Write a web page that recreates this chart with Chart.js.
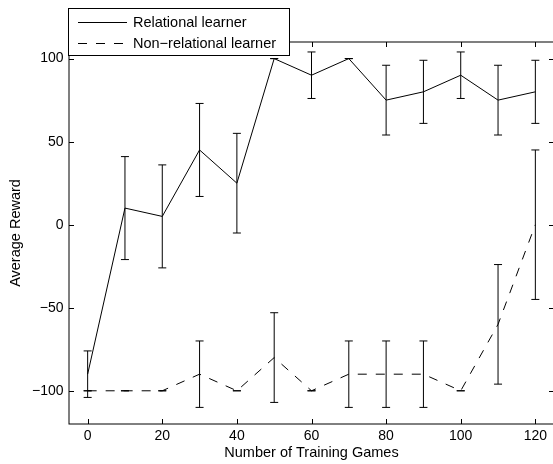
<!DOCTYPE html>
<html>
<head>
<meta charset="utf-8">
<script src="https://cdn.jsdelivr.net/npm/chart.js@4/dist/chart.umd.min.js"></script>
<style>
  html, body { margin: 0; padding: 0; background: #fff; overflow: hidden; }
  #wrap { width: 553px; height: 464px; overflow: hidden; }
</style>
</head>
<body>
<div id="wrap"><canvas id="c" width="556" height="464"></canvas></div>
<script>
const games = [0, 10, 20, 30, 40, 50, 60, 70, 80, 90, 100, 110, 120];
const relationalMean = [-90, 10, 5, 45, 25, 100, 90, 100, 75, 80, 90, 75, 80];
const relationalErr  = [14, 31, 31, 28, 30, 0, 14, 0, 21, 19, 14, 21, 19];
const nonRelationalMean = [-100, -100, -100, -90, -100, -80, -100, -90, -90, -90, -100, -60, 0];
const nonRelationalErr  = [0, 0, 0, 20, 0, 27, 0, 20, 20, 20, 0, 36, 45];
const xTickValues = [0, 20, 40, 60, 80, 100, 120];
const yTickValues = [-100, -50, 0, 50, 100];
const seriesLabels = ['Relational learner', 'Non\u2212relational learner'];

const FONT = '"Liberation Sans", Arial, Helvetica, sans-serif';
const errs = [relationalErr, nonRelationalErr];

// error bars drawn through the scales
const errorBars = {
  id: 'errorBars',
  afterDatasetsDraw(chart) {
    const { ctx, scales: { x, y } } = chart;
    ctx.save();
    ctx.strokeStyle = '#000';
    ctx.lineWidth = 1;
    ctx.setLineDash([]);
    chart.data.datasets.forEach((ds, i) => {
      ds.data.forEach((p, j) => {
        const px = x.getPixelForValue(p.x);
        const top = y.getPixelForValue(p.y + errs[i][j]);
        const bot = y.getPixelForValue(p.y - errs[i][j]);
        ctx.beginPath();
        ctx.moveTo(px, top); ctx.lineTo(px, bot);
        ctx.moveTo(px - 4, top); ctx.lineTo(px + 4, top);
        ctx.moveTo(px - 4, bot); ctx.lineTo(px + 4, bot);
        ctx.stroke();
      });
    });
    ctx.restore();
  },
};

// box frame with inward ticks, then the legend on top
const frame = {
  id: 'frame',
  afterDraw(chart) {
    const { ctx, chartArea: a, scales: { x, y } } = chart;
    ctx.save();
    ctx.strokeStyle = '#000';
    ctx.lineWidth = 1;
    ctx.setLineDash([]);
    ctx.strokeRect(a.left, a.top, a.right - a.left, a.bottom - a.top);
    ctx.beginPath();
    xTickValues.forEach((v) => {
      const px = Math.round(x.getPixelForValue(v)) + 0.5;
      ctx.moveTo(px, a.bottom); ctx.lineTo(px, a.bottom - 5);
      ctx.moveTo(px, a.top); ctx.lineTo(px, a.top + 5);
    });
    yTickValues.forEach((v) => {
      const py = Math.round(y.getPixelForValue(v)) + 0.5;
      ctx.moveTo(a.left, py); ctx.lineTo(a.left + 5, py);
      ctx.moveTo(a.right, py); ctx.lineTo(a.right - 5, py);
    });
    ctx.stroke();

    // legend
    ctx.fillStyle = '#fff';
    ctx.fillRect(68.5, 8.5, 221, 47);
    ctx.strokeRect(68.5, 8.5, 221, 47);
    ctx.fillStyle = '#000';
    ctx.font = '14.5px ' + FONT;
    ctx.textBaseline = 'middle';
    const rows = [22.5, 43.5];
    chart.data.datasets.forEach((ds, i) => {
      ctx.setLineDash(ds.borderDash || []);
      ctx.beginPath();
      ctx.moveTo(78, rows[i]); ctx.lineTo(127, rows[i]);
      ctx.stroke();
      ctx.fillText(ds.label, 133, rows[i]);
    });
    ctx.restore();
  },
};

new Chart(document.getElementById('c'), {
  type: 'line',
  data: {
    datasets: [
      {
        label: seriesLabels[0],
        data: games.map((g, i) => ({ x: g, y: relationalMean[i] })),
        borderColor: '#000', borderWidth: 1, pointRadius: 0, tension: 0,
      },
      {
        label: seriesLabels[1],
        data: games.map((g, i) => ({ x: g, y: nonRelationalMean[i] })),
        borderColor: '#000', borderWidth: 1, pointRadius: 0, tension: 0,
        borderDash: [9, 9],
      },
    ],
  },
  options: {
    responsive: false,
    animation: false,
    devicePixelRatio: 1,
    layout: { padding: { left: 0, top: 42, right: 2, bottom: 0 } },
    plugins: { legend: { display: false }, tooltip: { enabled: false } },
    scales: {
      x: {
        type: 'linear', min: -5, max: 125,
        afterBuildTicks: (s) => { s.ticks = xTickValues.map((v) => ({ value: v })); },
        afterFit: (s) => { s.height = 40; },
        grid: { display: false, drawTicks: false },
        border: { display: false },
        ticks: { color: '#000', font: { family: FONT, size: 14 }, padding: 4, maxRotation: 0 },
        title: { display: true, text: 'Number of Training Games', color: '#000',
                 font: { family: FONT, size: 14.5 }, padding: { top: 0, bottom: 2 } },
      },
      y: {
        min: -120, max: 110,
        afterBuildTicks: (s) => { s.ticks = yTickValues.map((v) => ({ value: v })); },
        afterFit: (s) => { s.width = 69; },
        grid: { display: false, drawTicks: false },
        border: { display: false },
        ticks: { color: '#000', font: { family: FONT, size: 14 }, padding: 5.5,
                 callback: (v) => String(v).replace('-', '\u2212') },
        title: { display: true, text: 'Average Reward', color: '#000',
                 font: { family: FONT, size: 14.5 }, padding: { top: 7, bottom: 0 } },
      },
    },
  },
  plugins: [errorBars, frame],
});
</script>
</body>
</html>
